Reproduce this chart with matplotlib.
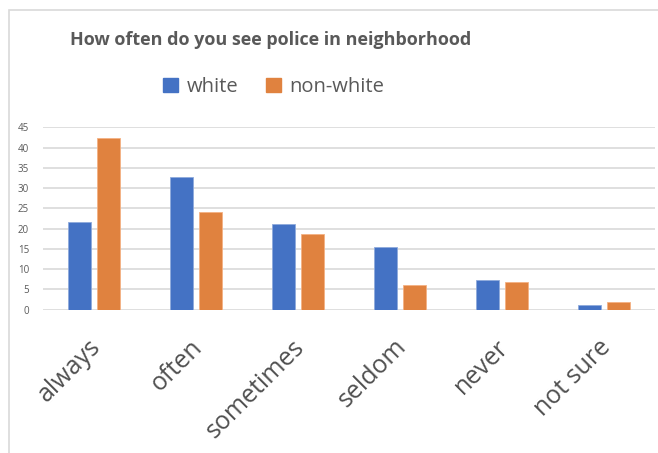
import matplotlib.pyplot as plt
import matplotlib.patches as mpatches
import numpy as np

plt.rcParams['font.family'] = ['Open Sans', 'DejaVu Sans']

# data
categories = ['always', 'often', 'sometimes', 'seldom', 'never', 'not sure']
white = [21.6, 32.8, 21.2, 15.4, 7.2, 1.2]
non_white = [42.4, 24.2, 18.6, 6.0, 6.8, 1.9]
yticks = [0, 5, 10, 15, 20, 25, 30, 35, 40, 45]

blue = '#4472C4'
orange = '#E0823F'
grey_txt = '#595959'

W, H = 658, 453
fig = plt.figure(figsize=(W / 100, H / 100), dpi=100)

# outer chart border (left and top visible)
fig.patches.append(mpatches.Rectangle((9 / W, -0.1), 1.2, 1 - 10 / H + 0.1,
                                      transform=fig.transFigure, fill=False,
                                      edgecolor='#d9d9d9', linewidth=1.2))

ax = fig.add_axes([43 / W, 1 - 309.5 / H, (655 - 43) / W, (309.5 - 127.3) / H])

x = np.arange(len(categories))
bw = 0.225
ax.bar(x - 0.14, white, bw, color=blue, label='white', edgecolor='#8faadc', linewidth=0.6, zorder=3)
ax.bar(x + 0.14, non_white, bw, color=orange, label='non-white', edgecolor='#f4b183', linewidth=0.6, zorder=3)

ax.set_xlim(-0.5, len(categories) - 0.5)
ax.set_ylim(0, 45)
ax.set_yticks(yticks)
ax.set_yticklabels([str(t) for t in yticks], fontsize=7, color=grey_txt)
ax.grid(axis='y', color='#d9d9d9', linewidth=1.2, zorder=0)
for s in ax.spines.values():
    s.set_visible(False)
ax.tick_params(axis='y', length=0, pad=10)
ax.tick_params(axis='x', length=0)

ax.set_xticks(x - 0.06)
ax.set_xticklabels(categories, rotation=45, ha='right', rotation_mode='anchor',
                   fontsize=18, color='#505050')
ax.tick_params(axis='x', pad=18)

fig.text(0.412, 1 - 40 / H, 'How often do you see police in neighborhood', ha='center', va='center',
         fontsize=13, fontweight='bold', color=grey_txt)

handles = [mpatches.Patch(color=blue), mpatches.Patch(color=orange)]
fig.legend(handles, ['white', 'non-white'], loc='center', bbox_to_anchor=(0.416, 1 - 87 / H),
           ncol=2, frameon=False, fontsize=14.5, labelcolor=grey_txt,
           handlelength=0.75, handleheight=0.75, handletextpad=0.4, columnspacing=1.4)

fig.savefig('out.png', dpi=100, facecolor='white')
